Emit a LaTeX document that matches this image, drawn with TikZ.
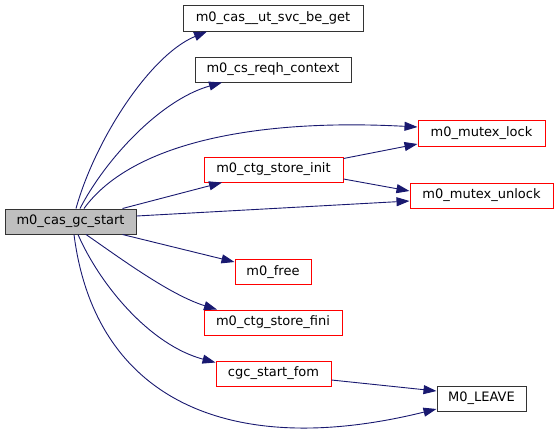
\documentclass[tikz,border=0pt]{standalone}
\usepackage{fontspec}
\setmainfont{DejaVu Sans}
\usetikzlibrary{arrows.meta}
\definecolor{edgec}{HTML}{191970}
\definecolor{startfill}{HTML}{BFBFBF}
\definecolor{redline}{HTML}{FF0000}
\begin{document}
\begin{tikzpicture}[x=1pt,y=-1pt,
  fn/.style={draw=black!80,line width=1pt,inner sep=0pt,minimum height=25pt,font=\fontsize{13}{15}\selectfont},
  redfn/.style={fn,draw=redline},
  call/.style={draw=edgec,line width=0.9pt,-{Triangle[length=13pt,width=9pt]}}]
\useasboundingbox (0,0) rectangle (559,432);
\node[fn,fill=startfill,minimum width=131pt] (start) at (70.5,221.5) {m0\_cas\_gc\_start};
\node[fn,minimum width=180pt,minimum height=26pt] (svc) at (273,18) {m0\_cas\_\_ut\_svc\_be\_get};
\node[fn,minimum width=156pt] (reqh) at (273,69.5) {m0\_cs\_reqh\_context};
\node[redfn,minimum width=127pt,minimum height=26pt] (lock) at (481.5,133) {m0\_mutex\_lock};
\node[redfn,minimum width=139pt] (init) at (273.5,169.5) {m0\_ctg\_store\_init};
\node[redfn,minimum width=143pt] (unlock) at (481.5,195.5) {m0\_mutex\_unlock};
\node[redfn,minimum width=76pt,minimum height=25pt] (mfree) at (273,272) {m0\_free};
\node[redfn,minimum width=138pt] (fini) at (273,322.5) {m0\_ctg\_store\_fini};
\node[redfn,minimum width=115pt] (fom) at (273.5,373.5) {cgc\_start\_fom};
\node[fn,minimum width=89pt] (leave) at (481.5,398.5) {M0\_LEAVE};

\draw[call] ([xshift=5.5]start.north) .. controls (95,140) and (150,55) .. ([xshift=-66]svc.south);
\draw[call] ([xshift=9.5]start.north) .. controls (105,160) and (160,100) .. ([xshift=-51]reqh.south);
\draw[call] ([xshift=13.5]start.north) .. controls (130,145) and (250,118) .. ([yshift=6]lock.west);
\draw[call] ([xshift=-14]start.north east) -- ([xshift=-51.5]init.south);
\draw[call] ([yshift=5.5]start.east) -- ([yshift=-5.5]unlock.west);
\draw[call] ([yshift=-2]init.north east) -- ([yshift=-11]lock.west);
\draw[call] ([yshift=-9.5]init.east) -- ([yshift=4.5]unlock.west);
\draw[call] ([xshift=-14]start.south east) -- ([yshift=10]mfree.west);
\draw[call] ([xshift=15.5]start.south) .. controls (120,258) and (170,295) .. ([xshift=-56]fini.north);
\draw[call] ([xshift=7.5]start.south) .. controls (100,285) and (150,345) .. ([yshift=-2]fom.north west);
\draw[call] ([xshift=3.5]start.south) .. controls (95,400) and (230,460) .. ([yshift=-10.5]leave.west);
\draw[call] ([yshift=-6.5]fom.east) -- ([yshift=7.5]leave.west);
\end{tikzpicture}
\end{document}
